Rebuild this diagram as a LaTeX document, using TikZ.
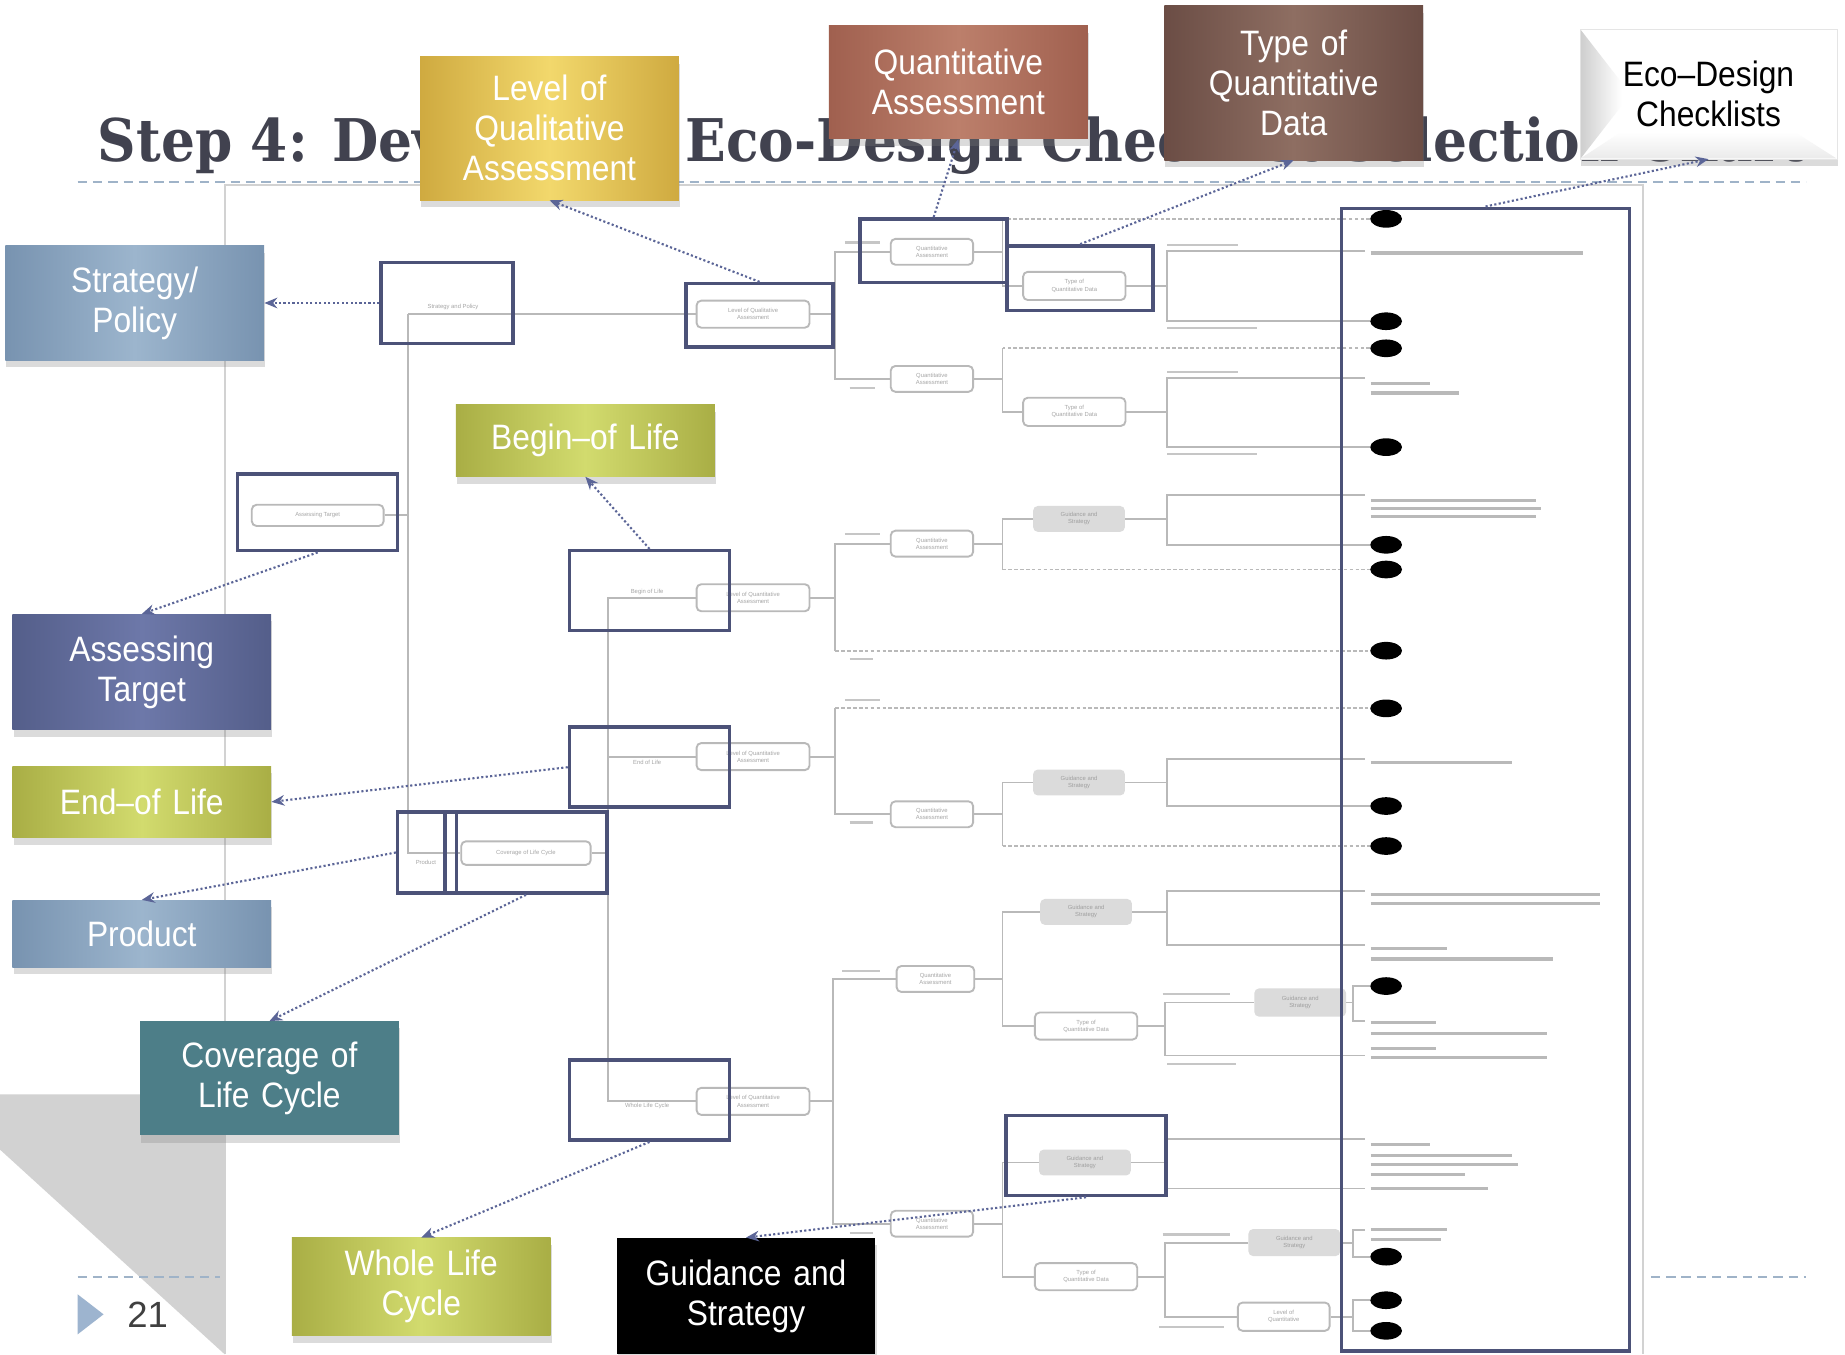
\documentclass[tikz,border=0pt]{standalone}
\usepackage{fontspec}
\usepackage{graphicx}
\setmainfont{Liberation Sans}
\newfontfamily\titlefont{DejaVu Serif}
\newfontfamily\cfont{Liberation Sans}[FakeStretch=0.9]
\usetikzlibrary{arrows.meta,shadows,shapes.geometric,calc}
\definecolor{titlec}{HTML}{41424F}
\definecolor{hlc}{HTML}{4C5278}
\definecolor{arrc}{HTML}{5B6597}
\definecolor{dashc}{HTML}{9FB3C8}
\definecolor{goldA}{HTML}{CFAA40}
\definecolor{goldB}{HTML}{F2D86C}
\definecolor{terA}{HTML}{A0604F}
\definecolor{terB}{HTML}{BC7F6B}
\definecolor{brnA}{HTML}{6B4D45}
\definecolor{brnB}{HTML}{8E6E62}
\definecolor{stA}{HTML}{7893B0}
\definecolor{stB}{HTML}{9CB5CD}
\definecolor{ygA}{HTML}{A9AE45}
\definecolor{ygB}{HTML}{D2DB6E}
\definecolor{slA}{HTML}{545E8A}
\definecolor{slB}{HTML}{6D78A9}
\definecolor{teal}{HTML}{4D7E88}
\definecolor{pgc}{HTML}{9DB4CF}
\tikzset{
  callout/.style={inner sep=0pt, minimum width=220pt, text width=212pt, align=center,
    text=white, font=\cfont\fontsize{30}{34}\selectfont,
    drop shadow={shadow xshift=1pt, shadow yshift=-6pt, opacity=0.28}},
  grad/.style 2 args={left color=#1, right color=#1, middle color=#2},
  hl/.style={draw=hlc, line width=3pt, inner sep=0pt},
  carrow/.style={draw=arrc, line width=1.8pt, dotted, -{Stealth[length=11pt,width=9pt]}},
  tl/.style={draw=gray!55, line width=1.6pt},
  tld/.style={draw=gray!55, line width=1.6pt, dash pattern=on 3pt off 2pt},
  rbox/.style={draw=gray!55, line width=1.6pt, rounded corners=4pt, fill=white, inner sep=0pt,
    font=\fontsize{5}{6}\selectfont, text=gray!70, align=center},
  gbox/.style={fill=gray!28, rounded corners=4pt, inner sep=0pt,
    font=\fontsize{5}{6}\selectfont, text=gray!75, align=center},
  blk/.style={ellipse, fill=black, minimum width=27pt, minimum height=15pt, inner sep=0pt},
  bar/.style={draw=gray!55, line width=2.6pt},
  sbar/.style={draw=gray!45, line width=2pt},
  tiny/.style={font=\fontsize{5}{6}\selectfont, text=gray!70, inner sep=0pt},
  dline/.style={draw=dashc, line width=1.8pt, dash pattern=on 8pt off 5pt}
}
\begin{document}
\begin{tikzpicture}[x=1pt,y=-1pt]
\useasboundingbox (0,0) rectangle (1568,1151);
\fill[white] (0,0) rectangle (1568,1151);
% page-curl shadow
\fill[gray!35] (0,930) -- (191,930) -- (191,1151) -- (0,977) -- cycle;
% embedded screenshot frame
\draw[gray!35, line width=1.5pt] (191,1151) -- (191,157) -- (1396,157) -- (1396,1151);

% ---------------- decision tree ----------------
\coordinate (j1) at (347,267);
\node[tiny] (sptext) at (385,261) {Strategy and Policy};
\node[rbox, minimum width=96pt, minimum height=23pt] (lqa) at (640,267) {Level of Qualitative\\Assessment};
\node[rbox, minimum width=112pt, minimum height=18pt] (atb) at (270,438) {Assessing Target};
\node[rbox, minimum width=110pt, minimum height=20pt] (cov) at (447,725) {Coverage of Life Cycle};
\node[tiny] (prtext) at (362,733) {Product};
\draw[tl] (j1) -- (lqa.west);
\draw[tl] (j1) |- (cov.west);
\draw[tl] (atb.east) -- (atb.east -| j1);
\coordinate (j2) at (517,725);
\draw[tl] (cov.east) -- (j2);
\node[rbox, minimum width=96pt, minimum height=23pt] (bol) at (640,508) {Level of Quantitative\\Assessment};
\node[rbox, minimum width=96pt, minimum height=23pt] (eol) at (640,643) {Level of Quantitative\\Assessment};
\node[rbox, minimum width=96pt, minimum height=23pt] (wlc) at (640,936) {Level of Quantitative\\Assessment};
\draw[tl] (bol.west) -| (j2) |- (wlc.west);
\draw[tl] (eol.west) -- (eol.west -| j2);
\node[tiny] (boltext) at (550,503) {Begin of Life};
\node[tiny] (eoltext) at (550,648) {End of Life};
\node[tiny] (wlctext) at (550,940) {Whole Life Cycle};

% branch of qualitative level
\coordinate (k1) at (710,267);
\node[rbox, minimum width=70pt, minimum height=22pt] (qa1) at (792,214) {Quantitative\\Assessment};
\node[rbox, minimum width=70pt, minimum height=22pt] (qa2) at (792,322) {Quantitative\\Assessment};
\draw[tl] (lqa.east) -- (k1);
\draw[tl] (qa1.west) -| (k1) |- (qa2.west);
\draw[sbar] (718,206) -- (748,206);
\draw[sbar] (722,330) -- (744,330);
% qa1
\coordinate (k2) at (852,214);
\node[blk] (el1) at (1178,186) {};
\node[rbox, minimum width=87pt, minimum height=24pt] (tq1) at (913,243) {Type of\\Quantitative Data};
\draw[tl] (qa1.east) -- (k2);
\draw[tld] (el1.west) -- (el1.west -| k2);
\draw[tl] (el1.west -| k2) |- (tq1.west);
\coordinate (k3) at (992,243);
\coordinate (e1) at (1160,213);
\node[blk] (el2) at (1178,273) {};
\draw[tl] (tq1.east) -- (k3);
\draw[tl] (e1) -| (k3) |- (el2.west);
% qa2
\coordinate (k4) at (852,322);
\node[blk] (el3) at (1178,296) {};
\node[rbox, minimum width=87pt, minimum height=24pt] (tq2) at (913,350) {Type of\\Quantitative Data};
\draw[tl] (qa2.east) -- (k4);
\draw[tld] (el3.west) -- (el3.west -| k4);
\draw[tl] (el3.west -| k4) |- (tq2.west);
\coordinate (k5) at (992,350);
\coordinate (e2) at (1160,321);
\node[blk] (el4) at (1178,380) {};
\draw[tl] (tq2.east) -- (k5);
\draw[tl] (e2) -| (k5) |- (el4.west);

% begin of life
\coordinate (k6) at (710,508);
\node[rbox, minimum width=70pt, minimum height=22pt] (qa3) at (792,462) {Quantitative\\Assessment};
\node[blk] (el7) at (1178,553) {};
\draw[tl] (bol.east) -- (k6);
\draw[tl] (qa3.west) -| (k6);
\draw[tl] (k6) -- (k6 |- el7.west);
\draw[tld] (k6 |- el7.west) -- (el7.west);
\draw[sbar] (718,454) -- (748,454);
\draw[sbar] (722,560) -- (742,560);
\coordinate (k7) at (852,462);
\node[gbox, minimum width=78pt, minimum height=22pt] (gs1) at (917,441) {Guidance and\\Strategy};
\node[blk] (el6) at (1178,484) {};
\draw[tl] (qa3.east) -- (k7);
\draw[tl] (gs1.west) -| (k7);
\draw[tl] (k7) -- (k7 |- el6.west);
\draw[tld] (k7 |- el6.west) -- (el6.west);
\coordinate (k8) at (992,441);
\coordinate (e3) at (1160,421);
\node[blk] (el5) at (1178,463) {};
\draw[tl] (gs1.east) -- (k8);
\draw[tl] (e3) -| (k8) |- (el5.west);

% end of life
\coordinate (k9) at (710,643);
\node[blk] (el8) at (1178,602) {};
\node[rbox, minimum width=70pt, minimum height=22pt] (qa4) at (792,692) {Quantitative\\Assessment};
\draw[tl] (eol.east) -- (k9);
\draw[tl] (k9) -- (k9 |- el8.west);
\draw[tld] (k9 |- el8.west) -- (el8.west);
\draw[tl] (k9) |- (qa4.west);
\draw[sbar] (718,595) -- (748,595);
\draw[sbar] (722,699) -- (742,699);
\coordinate (k10) at (852,692);
\node[gbox, minimum width=78pt, minimum height=22pt] (gs2) at (917,665) {Guidance and\\Strategy};
\node[blk] (el10) at (1178,719) {};
\draw[tl] (qa4.east) -- (k10);
\draw[tl] (gs2.west) -| (k10);
\draw[tl] (k10) -- (k10 |- el10.west);
\draw[tld] (k10 |- el10.west) -- (el10.west);
\coordinate (k11) at (992,665);
\coordinate (e4) at (1160,645);
\node[blk] (el9) at (1178,685) {};
\draw[tl] (gs2.east) -- (k11);
\draw[tl] (e4) -| (k11) |- (el9.west);

% whole life cycle
\coordinate (k12) at (708,936);
\node[rbox, minimum width=66pt, minimum height=22pt] (qa5) at (795,832) {Quantitative\\Assessment};
\node[rbox, minimum width=70pt, minimum height=22pt] (qa6) at (792,1040) {Quantitative\\Assessment};
\draw[tl] (wlc.east) -- (k12);
\draw[tl] (qa5.west) -| (k12) |- (qa6.west);
\draw[sbar] (716,825) -- (748,825);
\draw[sbar] (722,1048) -- (742,1048);
\coordinate (k13) at (852,832);
\node[gbox, minimum width=78pt, minimum height=22pt] (gs3) at (923,775) {Guidance and\\Strategy};
\node[rbox, minimum width=87pt, minimum height=23pt] (tq3) at (923,872) {Type of\\Quantitative Data};
\draw[tl] (qa5.east) -- (k13);
\draw[tl] (gs3.west) -| (k13) |- (tq3.west);
\coordinate (k14) at (992,775);
\coordinate (e5) at (1160,757);
\coordinate (e6) at (1160,803);
\draw[tl] (gs3.east) -- (k14);
\draw[tl] (e5) -| (k14) |- (e6);
\coordinate (k15) at (990,872);
\node[gbox, minimum width=78pt, minimum height=24pt] (gs4) at (1105,852) {Guidance and\\Strategy};
\coordinate (e7) at (1160,897);
\draw[tl] (tq3.east) -- (k15);
\draw[tl] (gs4.west) -| (k15) |- (e7);
\draw[sbar] (988,845) -- (1045,845);
\draw[sbar] (992,904) -- (1050,904);
\coordinate (k16) at (1150,852);
\node[blk] (el11) at (1178,838) {};
\coordinate (e8) at (1160,868);
\draw[tl] (gs4.east) -- (k16);
\draw[tl] (el11.west) -| (k16) |- (e8);
\coordinate (k17) at (852,1040);
\node[gbox, minimum width=78pt, minimum height=22pt] (gs5) at (922,988) {Guidance and\\Strategy};
\node[rbox, minimum width=87pt, minimum height=23pt] (tq4) at (923,1085) {Type of\\Quantitative Data};
\draw[tl] (qa6.east) -- (k17);
\draw[tl] (gs5.west) -| (k17) |- (tq4.west);
\coordinate (k18) at (992,988);
\coordinate (e9) at (1160,968);
\coordinate (e10) at (1160,1010);
\draw[tl] (gs5.east) -- (k18);
\draw[tl] (e9) -| (k18) |- (e10);
\coordinate (k19) at (990,1085);
\node[gbox, minimum width=78pt, minimum height=23pt] (gs6) at (1100,1056) {Guidance and\\Strategy};
\node[rbox, minimum width=78pt, minimum height=24pt] (lv) at (1091,1119) {Level of\\Quantitative};
\draw[tl] (tq4.east) -- (k19);
\draw[tl] (gs6.west) -| (k19) |- (lv.west);
\draw[sbar] (988,1049) -- (1045,1049);
\draw[sbar] (985,1128) -- (1040,1128);
\coordinate (k20) at (1150,1056);
\coordinate (e11) at (1160,1045);
\node[blk] (el12) at (1178,1068) {};
\draw[tl] (gs6.east) -- (k20);
\draw[tl] (e11) -| (k20) |- (el12.west);
\coordinate (k21) at (1150,1119);
\node[blk] (el13) at (1178,1105) {};
\node[blk] (el14) at (1178,1131) {};
\draw[tl] (lv.east) -- (k21);
\draw[tl] (el13.west) -| (k21) |- (el14.west);

% unreadable checklist descriptions (blurred text lines)
\foreach \xa/\xb/\yy in {1165/1345/215, 1165/1215/326, 1165/1240/334,
  1165/1305/425, 1165/1310/432, 1165/1305/439, 1165/1285/648,
  1165/1360/760, 1165/1360/768, 1165/1230/806, 1165/1320/815,
  1165/1220/869, 1165/1315/878, 1165/1220/891, 1165/1315/899,
  1165/1215/973, 1165/1285/982, 1165/1290/990, 1165/1245/998, 1165/1265/1010,
  1165/1230/1045, 1165/1225/1053}
  \draw[bar] (\xa,\yy) -- (\xb,\yy);
\draw[sbar] (992,208) -- (1052,208);
\draw[sbar] (992,279) -- (1068,279);
\draw[sbar] (992,316) -- (1052,316);
\draw[sbar] (992,386) -- (1068,386);

% ---------------- title and rules ----------------
\node[anchor=base west, inner sep=0pt, text=titlec] (title) at (83,137)
  {\resizebox{1452pt}{38pt}{\titlefont\bfseries Step 4: Developing Eco-Design Checklist Selection Chart}};
\draw[dline] (66,155) -- (1535,155);
\draw[dline] (66,1085) -- (187,1085);
\draw[dline] (1403,1085) -- (1535,1085);
\fill[pgc] (66,1100) -- (88,1117) -- (66,1134) -- cycle;
\node[anchor=west, inner sep=0pt, text=black!75, font=\fontsize{31}{31}\selectfont] (pnum) at (108,1117) {21};

% ---------------- highlight rectangles ----------------
\node[hl, minimum width=112pt, minimum height=69pt] (ra) at (380,257.5) {};
\node[hl, minimum width=125pt, minimum height=54pt] (rb) at (645.5,268) {};
\node[hl, minimum width=125pt, minimum height=54pt] (rc) at (793.5,213) {};
\node[hl, minimum width=124pt, minimum height=55pt] (rd) at (918,236.5) {};
\node[hl, minimum width=245pt, minimum height=971pt] (re) at (1262.5,662.5) {};
\node[hl, minimum width=136pt, minimum height=65pt] (rf) at (270,435.5) {};
\node[hl, minimum width=136pt, minimum height=68pt] (rg) at (552,502) {};
\node[hl, minimum width=136pt, minimum height=68pt] (rh) at (552,652) {};
\node[hl, minimum width=50pt, minimum height=69pt] (riA) at (363,724.5) {};
\node[hl, minimum width=138pt, minimum height=69pt] (riB) at (447,724.5) {};
\node[hl, minimum width=136pt, minimum height=68pt] (rj) at (552,935) {};
\node[hl, minimum width=136pt, minimum height=68pt] (rk) at (923,982) {};

% ---------------- callouts ----------------
\node[callout, grad={goldA}{goldB}, minimum height=122pt] (lqual) at (467,109) {Level of\\Qualitative\\Assessment};
\node[callout, grad={terA}{terB}, minimum height=96pt] (quant) at (814.5,70) {Quantitative\\Assessment};
\node[callout, grad={brnA}{brnB}, minimum height=131pt] (typeq) at (1099.5,70.5) {Type of\\Quantitative\\Data};
\node[callout, fill=white, draw=gray!20, text=black, minimum width=218pt, minimum height=110pt] (eco) at (1452,80) {};
\shade[left color=gray!38, right color=white] (1343.5,25.5) -- (1378,70) -- (1378,90) -- (1343.5,134.5) -- cycle;
\shade[top color=white, bottom color=gray!16] (1378,112) -- (1525,112) -- (1560.5,134.5) -- (1343.5,134.5) -- cycle;
\node[inner sep=0pt, align=center, text=black, font=\cfont\fontsize{30}{34}\selectfont] (ecotext) at (eco.center) {Eco–Design\\Checklists};
\node[callout, grad={stA}{stB}, minimum height=97pt] (strat) at (114.5,257.5) {Strategy/\\Policy};
\node[callout, grad={ygA}{ygB}, minimum height=61pt] (begin) at (497.5,374.5) {Begin–of Life};
\node[callout, grad={slA}{slB}, minimum height=98pt] (assess) at (120.5,571) {Assessing\\Target};
\node[callout, grad={ygA}{ygB}, minimum height=61pt] (endl) at (120.5,681.5) {End–of Life};
\node[callout, grad={stA}{stB}, minimum height=57pt] (prod) at (120.5,793.5) {Product};
\node[callout, fill=teal, minimum height=97pt] (cover) at (229,916.5) {Coverage of\\Life Cycle};
\node[callout, grad={ygA}{ygB}, minimum height=83pt] (whole) at (358,1093.5) {Whole Life\\Cycle};
\node[callout, fill=black, minimum height=99pt] (guide) at (634,1101.5) {Guidance and\\Strategy};

% ---------------- dotted connectors ----------------
\draw[carrow] (ra.west) -- (strat.east);
\draw[carrow] (rb.north) -- (lqual.south);
\draw[carrow] (rc.north) -- (quant.south);
\draw[carrow] (rd.north) -- (typeq.south);
\draw[carrow] (re.north) -- (eco.south);
\draw[carrow] (rf.south) -- (assess.north);
\draw[carrow] (rg.north) -- (begin.south);
\draw[carrow] (rh.west) -- (endl.east);
\draw[carrow] (riA.west) -- (prod.north);
\draw[carrow] (riB.south) -- (cover.north);
\draw[carrow] (rj.south) -- (whole.north);
\draw[carrow] (rk.south) -- (guide.north);
\end{tikzpicture}
\end{document}
